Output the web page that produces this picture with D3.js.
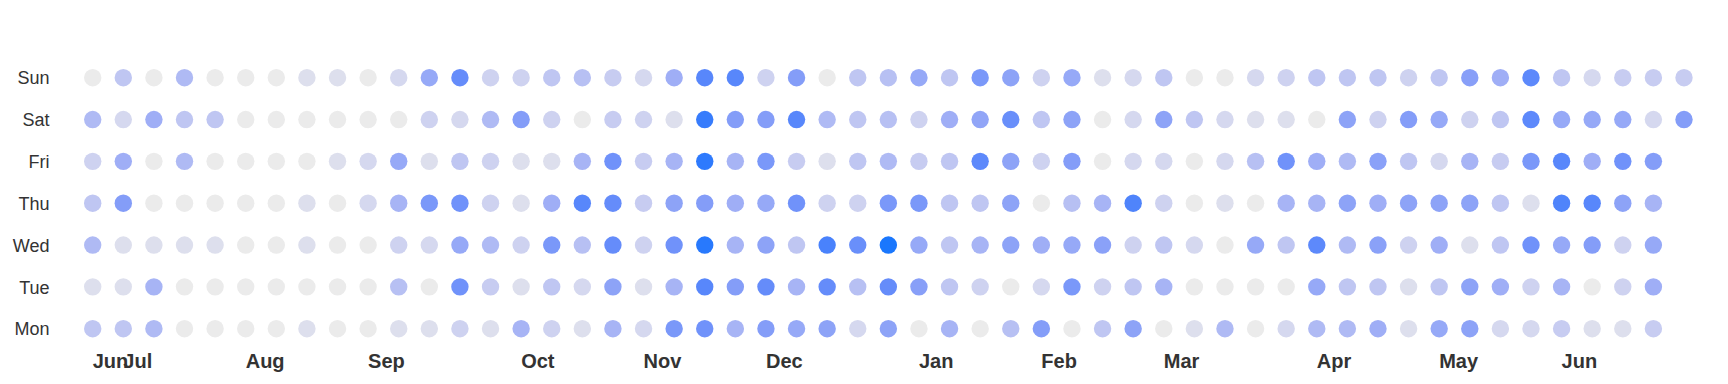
<!DOCTYPE html>
<html>
<head>
<meta charset="utf-8">
<script src="https://cdn.jsdelivr.net/npm/d3@7"></script>
<style>
  body { margin: 0; background: #fff; }
  text { font-family: "Liberation Sans", Arial, sans-serif; }
</style>
</head>
<body>
<svg id="chart" width="1728" height="384"></svg>
<script>
// first day shown (a Saturday); each column is a week Sat..Sun..Fri
var startDay = "2017-06-24";

var dayLabels = ["Sun", "Sat", "Fri", "Thu", "Wed", "Tue", "Mon"];
var monthLabels = ["Jun", "Jul", "Aug", "Sep", "Oct", "Nov", "Dec",
		   "Jan", "Feb", "Mar", "Apr", "May", "Jun"];

// activity per week, one array per weekday
var sat = [4, 1.5, 5, 3, 3, 0, 0, 0, 0, 0, 0, 2, 1.5,
	   4, 6.5, 2, 0, 2.5, 2, 1, 9.5, 6.5, 6.5, 8.5, 4, 3, 3.5, 2,
	   5, 5.8, 7.8, 3, 6, 0, 1.5, 6, 3, 1.5, 1, 1, 0,
	   6, 2, 6.5, 5.5, 2, 3, 8.3, 5.5, 5.5, 5.5, 1.5, 6.5];
var sun = [0, 3, 0, 4, 0, 0, 0, 1, 1, 0, 1.5, 5.5, 8,
	   2, 2, 3, 3.5, 2.5, 1.5, 5, 8.5, 8.5, 2, 6.5, 0, 3, 3.5, 5.5,
	   3, 7, 6, 2, 5.5, 1, 1.5, 3, 0, 0, 1.5, 2, 3,
	   3, 3, 2, 3, 6.3, 5, 8.3, 3, 1.5, 2.5, 2.5, 2.5];
var mon = [3, 3, 4, 0, 0, 0, 0, 1, 0, 0, 1, 1, 2,
	   1, 4.5, 2, 1, 4.5, 1.5, 7, 7.5, 4.5, 6.5, 5.5, 6, 1.5, 6, 0,
	   4.5, 0, 3.5, 6.5, 0, 3, 6, 0, 1, 4, 0, 1.5, 4,
	   4, 5, 1, 5.5, 6, 1.5, 1.5, 2.5, 1, 1, 2.5];
var tue = [1, 1, 4.5, 0, 0, 0, 0, 0, 0, 0, 3.5, 0, 7.5,
	   2.5, 1, 3, 1.5, 6, 1, 4.5, 8.5, 6.5, 8, 4.5, 8, 3.5, 8, 6.3,
	   3, 2, 0, 1.5, 7, 2, 3, 4.5, 0, 0, 0, 0, 5.5,
	   3, 3, 1, 3, 6, 5, 2, 4.5, 0, 2, 5];
var wed = [4, 1, 1, 1, 1, 0, 0, 1, 0, 0, 2, 1.5, 5.5,
	   4, 2, 7, 3.5, 8, 2, 7.5, 9.8, 4.5, 6, 3, 9, 7.8, 10, 5.5,
	   3, 4.5, 6, 5, 5.5, 6.2, 2, 3, 1.5, 0, 5.5, 3, 8.3,
	   4, 6.2, 2, 5, 1, 3, 7.5, 5.5, 6.5, 2, 5.5];
var thu = [3, 6.5, 0, 0, 0, 0, 0, 1, 0, 1.5, 4.5, 7, 7.5,
	   2, 1, 5, 8.5, 8, 2.5, 6, 6.5, 5, 5.5, 7.5, 2, 2, 7, 7,
	   3, 3, 6, 0, 3.5, 4.5, 8.8, 2, 0, 1, 0, 4.5, 4.5,
	   6, 5, 6, 6, 6, 3, 1, 8.8, 8.5, 6, 4.5];
var fri = [2, 5, 0, 4, 0, 0, 0, 0, 1, 1.5, 5.5, 1, 3,
	   2, 1, 1, 4.5, 7.5, 2.5, 4.5, 9.7, 4.5, 7, 2.5, 1, 3, 4, 2.5,
	   3, 8.3, 6, 2, 6.5, 0, 1.5, 1.5, 0, 1.5, 3.5, 7.5, 5,
	   4, 6.2, 3, 1.5, 4.5, 2.5, 7, 8.5, 5, 7.5, 6.5];

var svg = d3.select("#chart");

// build one record per day, in date order
var start = d3.timeParse("%Y-%m-%d")(startDay);
var byDay = [sat, sun, mon, tue, wed, thu, fri];
var data = [];
for (var w = 0; w < sat.length; w++) {
    for (var k = 0; k < 7; k++) {
	if (w < byDay[k].length) {
	    var date = d3.timeDay.offset(start, w * 7 + k);
	    data.push({date: date,
		       week: w,
		       day: d3.timeFormat("%a")(date),
		       value: byDay[k][w]});
	}
    }
}

var nWeeks = d3.max(data, function(d) {return d.week;});

var x = d3.scaleLinear()
    .domain([0, nWeeks])
    .range([92.7, 1684]);

var y = d3.scalePoint()
    .domain(dayLabels)
    .range([77.7, 328.7]);

var color = d3.scaleLinear()
    .domain([0, d3.max(data, function(d) {return d.value;})])
    .range(["#ebebeb", "#1a77fd"])
    .interpolate(d3.interpolateHcl);

svg.append("g")
    .selectAll("circle")
    .data(data)
    .join("circle")
    .attr("cx", function(d) {return x(d.week);})
    .attr("cy", function(d) {return y(d.day);})
    .attr("r", 8.7)
    .style("fill", function(d) {return color(d.value);});

// weekday labels
svg.append("g")
    .selectAll("text")
    .data(dayLabels)
    .join("text")
    .attr("x", 49.5)
    .attr("y", function(d) {return y(d);})
    .attr("dy", "0.37em")
    .attr("text-anchor", "end")
    .style("font-size", "18px")
    .style("fill", "#333")
    .text(function(d) {return d;});

// month labels, at the week holding the first shown day of each month
var end = data[data.length - 1].date;
var months = d3.timeMonth.range(d3.timeMonth.floor(start), end).map(function(m, i) {
    var first = m < start ? start : m;
    return {lab: monthLabels[i],
	    week: Math.floor(d3.timeDay.count(start, first) / 7)};
});

svg.append("g")
    .selectAll("text")
    .data(months)
    .join("text")
    .attr("x", function(d) {return x(d.week);})
    .attr("y", 368.3)
    .attr("text-anchor", "start")
    .style("font-size", "20px")
    .style("font-weight", "bold")
    .style("fill", "#333")
    .text(function(d) {return d.lab;});
</script>
</body>
</html>
